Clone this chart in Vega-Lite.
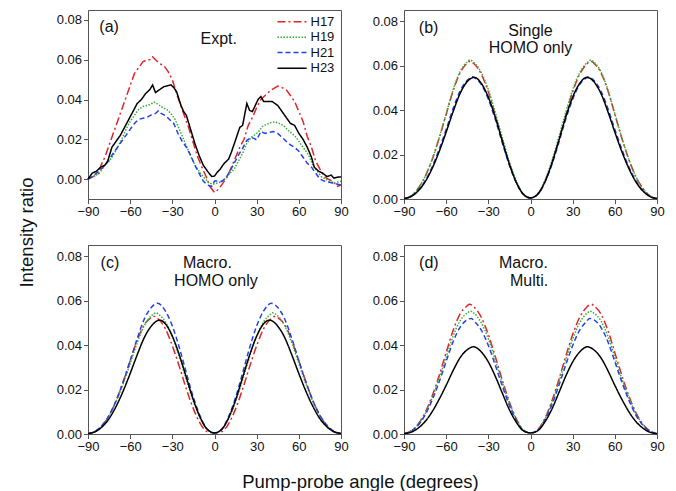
{
"$schema":"https://vega.github.io/schema/vega-lite/v6.json",
"padding":{"left":16,"top":9,"right":5,"bottom":5},
"config":{"font":"Liberation Sans","view":{"stroke":"#555","strokeWidth":1},
"axis":{"grid":false,"domainColor":"#555","tickColor":"#555","labelColor":"#111","labelFontSize":13,"labelPadding":2,"titleColor":"#111","titleFontSize":18.5,"titleFontWeight":"normal","domainWidth":1,"tickWidth":1,"labelFont":"Liberation Sans","titleFont":"Liberation Sans"},
"text":{"font":"Liberation Sans","fontSize":16,"color":"#111"}},
"datasets":{
"a":[
{"s":"H17","x":-90,"y":0.0},{"s":"H17","x":-87,"y":0.001},{"s":"H17","x":-84,"y":0.002},{"s":"H17","x":-82,"y":0.003},{"s":"H17","x":-81,"y":0.0065},{"s":"H17","x":-78,"y":0.011},{"s":"H17","x":-75,"y":0.017},{"s":"H17","x":-72,"y":0.023},{"s":"H17","x":-69,"y":0.029},{"s":"H17","x":-66,"y":0.035},{"s":"H17","x":-63,"y":0.041},{"s":"H17","x":-60,"y":0.047},{"s":"H17","x":-57,"y":0.053},{"s":"H17","x":-54,"y":0.056},{"s":"H17","x":-51,"y":0.059},{"s":"H17","x":-48,"y":0.06},{"s":"H17","x":-46,"y":0.06},{"s":"H17","x":-44,"y":0.0615},{"s":"H17","x":-42,"y":0.06},{"s":"H17","x":-39,"y":0.058},{"s":"H17","x":-36,"y":0.057},{"s":"H17","x":-33,"y":0.054},{"s":"H17","x":-30,"y":0.05},{"s":"H17","x":-27,"y":0.043},{"s":"H17","x":-24,"y":0.037},{"s":"H17","x":-21,"y":0.031},{"s":"H17","x":-18,"y":0.025},{"s":"H17","x":-15,"y":0.018},{"s":"H17","x":-12,"y":0.0113},{"s":"H17","x":-9,"y":0.006},{"s":"H17","x":-6,"y":0.0013},{"s":"H17","x":-3,"y":-0.004},{"s":"H17","x":0,"y":-0.0067},{"s":"H17","x":3,"y":-0.005},{"s":"H17","x":6,"y":-0.002},{"s":"H17","x":9,"y":0.001},{"s":"H17","x":12,"y":0.006},{"s":"H17","x":15,"y":0.011},{"s":"H17","x":18,"y":0.016},{"s":"H17","x":21,"y":0.02},{"s":"H17","x":24,"y":0.027},{"s":"H17","x":27,"y":0.031},{"s":"H17","x":30,"y":0.036},{"s":"H17","x":33,"y":0.04},{"s":"H17","x":36,"y":0.042},{"s":"H17","x":39,"y":0.044},{"s":"H17","x":42,"y":0.0455},{"s":"H17","x":45,"y":0.0468},{"s":"H17","x":48,"y":0.046},{"s":"H17","x":51,"y":0.045},{"s":"H17","x":54,"y":0.042},{"s":"H17","x":57,"y":0.039},{"s":"H17","x":60,"y":0.034},{"s":"H17","x":63,"y":0.029},{"s":"H17","x":66,"y":0.0214},{"s":"H17","x":69,"y":0.016},{"s":"H17","x":72,"y":0.009},{"s":"H17","x":75,"y":0.005},{"s":"H17","x":78,"y":0.0013},{"s":"H17","x":81,"y":0.0},{"s":"H17","x":84,"y":-0.001},{"s":"H17","x":87,"y":-0.0037},{"s":"H17","x":90,"y":-0.003},
{"s":"H19","x":-90,"y":0.0},{"s":"H19","x":-87,"y":0.001},{"s":"H19","x":-84,"y":0.002},{"s":"H19","x":-81,"y":0.004},{"s":"H19","x":-78,"y":0.007},{"s":"H19","x":-75,"y":0.009},{"s":"H19","x":-72,"y":0.012},{"s":"H19","x":-69,"y":0.016},{"s":"H19","x":-66,"y":0.02},{"s":"H19","x":-63,"y":0.025},{"s":"H19","x":-60,"y":0.029},{"s":"H19","x":-57,"y":0.032},{"s":"H19","x":-54,"y":0.035},{"s":"H19","x":-51,"y":0.0365},{"s":"H19","x":-48,"y":0.037},{"s":"H19","x":-46,"y":0.0375},{"s":"H19","x":-43,"y":0.0387},{"s":"H19","x":-40,"y":0.0375},{"s":"H19","x":-37,"y":0.036},{"s":"H19","x":-34,"y":0.035},{"s":"H19","x":-31,"y":0.033},{"s":"H19","x":-28,"y":0.03},{"s":"H19","x":-25,"y":0.025},{"s":"H19","x":-22,"y":0.02},{"s":"H19","x":-19,"y":0.015},{"s":"H19","x":-16,"y":0.01},{"s":"H19","x":-13,"y":0.006},{"s":"H19","x":-10,"y":0.003},{"s":"H19","x":-7,"y":0.0005},{"s":"H19","x":-4,"y":-0.002},{"s":"H19","x":-1,"y":-0.0025},{"s":"H19","x":2,"y":-0.002},{"s":"H19","x":5,"y":-0.0012},{"s":"H19","x":8,"y":0.0005},{"s":"H19","x":11,"y":0.003},{"s":"H19","x":14,"y":0.005},{"s":"H19","x":17,"y":0.009},{"s":"H19","x":20,"y":0.013},{"s":"H19","x":23,"y":0.018},{"s":"H19","x":26,"y":0.021},{"s":"H19","x":28,"y":0.022},{"s":"H19","x":31,"y":0.0235},{"s":"H19","x":34,"y":0.0264},{"s":"H19","x":37,"y":0.0275},{"s":"H19","x":40,"y":0.0284},{"s":"H19","x":43,"y":0.0288},{"s":"H19","x":46,"y":0.028},{"s":"H19","x":49,"y":0.027},{"s":"H19","x":52,"y":0.0247},{"s":"H19","x":55,"y":0.023},{"s":"H19","x":58,"y":0.021},{"s":"H19","x":61,"y":0.018},{"s":"H19","x":64,"y":0.015},{"s":"H19","x":67,"y":0.012},{"s":"H19","x":70,"y":0.007},{"s":"H19","x":73,"y":0.004},{"s":"H19","x":76,"y":0.0013},{"s":"H19","x":79,"y":0.0},{"s":"H19","x":82,"y":-0.001},{"s":"H19","x":85,"y":-0.002},{"s":"H19","x":88,"y":-0.0015},{"s":"H19","x":90,"y":-0.001},
{"s":"H21","x":-90,"y":0.0},{"s":"H21","x":-87,"y":0.0013},{"s":"H21","x":-84,"y":0.003},{"s":"H21","x":-81,"y":0.0047},{"s":"H21","x":-78,"y":0.007},{"s":"H21","x":-75,"y":0.0097},{"s":"H21","x":-72,"y":0.013},{"s":"H21","x":-69,"y":0.016},{"s":"H21","x":-66,"y":0.019},{"s":"H21","x":-63,"y":0.022},{"s":"H21","x":-60,"y":0.025},{"s":"H21","x":-57,"y":0.028},{"s":"H21","x":-54,"y":0.03},{"s":"H21","x":-51,"y":0.0306},{"s":"H21","x":-48,"y":0.031},{"s":"H21","x":-45,"y":0.0323},{"s":"H21","x":-42,"y":0.033},{"s":"H21","x":-40,"y":0.0343},{"s":"H21","x":-38,"y":0.033},{"s":"H21","x":-35,"y":0.032},{"s":"H21","x":-32,"y":0.03},{"s":"H21","x":-29,"y":0.028},{"s":"H21","x":-26,"y":0.023},{"s":"H21","x":-23,"y":0.019},{"s":"H21","x":-20,"y":0.016},{"s":"H21","x":-17,"y":0.012},{"s":"H21","x":-14,"y":0.007},{"s":"H21","x":-11,"y":0.003},{"s":"H21","x":-8,"y":-0.001},{"s":"H21","x":-5,"y":-0.003},{"s":"H21","x":-2,"y":-0.0037},{"s":"H21","x":0,"y":-0.001},{"s":"H21","x":2,"y":-0.001},{"s":"H21","x":5,"y":-0.0012},{"s":"H21","x":8,"y":0.0005},{"s":"H21","x":11,"y":0.004},{"s":"H21","x":14,"y":0.008},{"s":"H21","x":17,"y":0.012},{"s":"H21","x":20,"y":0.0155},{"s":"H21","x":23,"y":0.0195},{"s":"H21","x":26,"y":0.021},{"s":"H21","x":28,"y":0.0205},{"s":"H21","x":30,"y":0.0197},{"s":"H21","x":33,"y":0.0239},{"s":"H21","x":36,"y":0.023},{"s":"H21","x":39,"y":0.0235},{"s":"H21","x":42,"y":0.0239},{"s":"H21","x":45,"y":0.023},{"s":"H21","x":48,"y":0.021},{"s":"H21","x":51,"y":0.019},{"s":"H21","x":54,"y":0.0172},{"s":"H21","x":57,"y":0.016},{"s":"H21","x":60,"y":0.014},{"s":"H21","x":63,"y":0.011},{"s":"H21","x":66,"y":0.008},{"s":"H21","x":69,"y":0.006},{"s":"H21","x":72,"y":0.003},{"s":"H21","x":75,"y":0.0},{"s":"H21","x":78,"y":-0.001},{"s":"H21","x":81,"y":-0.0015},{"s":"H21","x":84,"y":-0.002},{"s":"H21","x":87,"y":-0.0025},{"s":"H21","x":90,"y":-0.003},
{"s":"H23","x":-90,"y":0.0},{"s":"H23","x":-87,"y":0.003},{"s":"H23","x":-84,"y":0.004},{"s":"H23","x":-81,"y":0.006},{"s":"H23","x":-78,"y":0.007},{"s":"H23","x":-76,"y":0.009},{"s":"H23","x":-73,"y":0.016},{"s":"H23","x":-70,"y":0.019},{"s":"H23","x":-67,"y":0.022},{"s":"H23","x":-64,"y":0.026},{"s":"H23","x":-61,"y":0.03},{"s":"H23","x":-58,"y":0.034},{"s":"H23","x":-55,"y":0.038},{"s":"H23","x":-52,"y":0.04},{"s":"H23","x":-49,"y":0.043},{"s":"H23","x":-46,"y":0.045},{"s":"H23","x":-44,"y":0.0473},{"s":"H23","x":-42,"y":0.0435},{"s":"H23","x":-39,"y":0.045},{"s":"H23","x":-36,"y":0.0465},{"s":"H23","x":-33,"y":0.047},{"s":"H23","x":-31,"y":0.0474},{"s":"H23","x":-29,"y":0.046},{"s":"H23","x":-27,"y":0.044},{"s":"H23","x":-24,"y":0.0373},{"s":"H23","x":-22,"y":0.034},{"s":"H23","x":-20,"y":0.032},{"s":"H23","x":-17,"y":0.025},{"s":"H23","x":-14,"y":0.018},{"s":"H23","x":-11,"y":0.012},{"s":"H23","x":-8,"y":0.007},{"s":"H23","x":-5,"y":0.004},{"s":"H23","x":-2,"y":0.0013},{"s":"H23","x":0,"y":0.0015},{"s":"H23","x":2,"y":0.0035},{"s":"H23","x":4,"y":0.005},{"s":"H23","x":7,"y":0.008},{"s":"H23","x":10,"y":0.01},{"s":"H23","x":12,"y":0.0135},{"s":"H23","x":15,"y":0.0197},{"s":"H23","x":18,"y":0.026},{"s":"H23","x":20,"y":0.027},{"s":"H23","x":23,"y":0.038},{"s":"H23","x":25,"y":0.0345},{"s":"H23","x":27,"y":0.034},{"s":"H23","x":29,"y":0.037},{"s":"H23","x":31,"y":0.04},{"s":"H23","x":33,"y":0.0415},{"s":"H23","x":35,"y":0.039},{"s":"H23","x":38,"y":0.039},{"s":"H23","x":41,"y":0.039},{"s":"H23","x":43,"y":0.038},{"s":"H23","x":45,"y":0.037},{"s":"H23","x":48,"y":0.034},{"s":"H23","x":51,"y":0.031},{"s":"H23","x":54,"y":0.028},{"s":"H23","x":57,"y":0.027},{"s":"H23","x":60,"y":0.023},{"s":"H23","x":63,"y":0.02},{"s":"H23","x":66,"y":0.016},{"s":"H23","x":69,"y":0.011},{"s":"H23","x":71,"y":0.006},{"s":"H23","x":74,"y":0.004},{"s":"H23","x":77,"y":0.003},{"s":"H23","x":80,"y":0.0013},{"s":"H23","x":83,"y":0.002},{"s":"H23","x":85,"y":0.0005},{"s":"H23","x":88,"y":0.001},{"s":"H23","x":90,"y":0.001}
],
"b":[
{"s":"H17","x":-90,"y":0.0002},{"s":"H17","x":-85,"y":0.0014},{"s":"H17","x":-80,"y":0.0047},{"s":"H17","x":-75,"y":0.01},{"s":"H17","x":-70,"y":0.0177},{"s":"H17","x":-65,"y":0.0273},{"s":"H17","x":-60,"y":0.0381},{"s":"H17","x":-55,"y":0.0488},{"s":"H17","x":-50,"y":0.0569},{"s":"H17","x":-45,"y":0.0611},{"s":"H17","x":-43,"y":0.062},{"s":"H17","x":-40,"y":0.0607},{"s":"H17","x":-35,"y":0.0561},{"s":"H17","x":-30,"y":0.0482},{"s":"H17","x":-25,"y":0.0375},{"s":"H17","x":-20,"y":0.0261},{"s":"H17","x":-15,"y":0.0156},{"s":"H17","x":-10,"y":0.0073},{"s":"H17","x":-5,"y":0.002},{"s":"H17","x":0,"y":0.0005},{"s":"H17","x":5,"y":0.002},{"s":"H17","x":10,"y":0.0073},{"s":"H17","x":15,"y":0.0156},{"s":"H17","x":20,"y":0.0261},{"s":"H17","x":25,"y":0.0375},{"s":"H17","x":30,"y":0.0482},{"s":"H17","x":35,"y":0.0561},{"s":"H17","x":40,"y":0.0607},{"s":"H17","x":43,"y":0.062},{"s":"H17","x":45,"y":0.0611},{"s":"H17","x":50,"y":0.0569},{"s":"H17","x":55,"y":0.0488},{"s":"H17","x":60,"y":0.0381},{"s":"H17","x":65,"y":0.0273},{"s":"H17","x":70,"y":0.0177},{"s":"H17","x":75,"y":0.01},{"s":"H17","x":80,"y":0.0047},{"s":"H17","x":85,"y":0.0014},{"s":"H17","x":90,"y":0.0002},
{"s":"H19","x":-90,"y":0.0002},{"s":"H19","x":-85,"y":0.0014},{"s":"H19","x":-80,"y":0.0047},{"s":"H19","x":-75,"y":0.0101},{"s":"H19","x":-70,"y":0.0178},{"s":"H19","x":-65,"y":0.0275},{"s":"H19","x":-60,"y":0.0384},{"s":"H19","x":-55,"y":0.0492},{"s":"H19","x":-50,"y":0.0574},{"s":"H19","x":-45,"y":0.0616},{"s":"H19","x":-43,"y":0.0625},{"s":"H19","x":-40,"y":0.0612},{"s":"H19","x":-35,"y":0.0568},{"s":"H19","x":-30,"y":0.0492},{"s":"H19","x":-25,"y":0.0388},{"s":"H19","x":-20,"y":0.0275},{"s":"H19","x":-15,"y":0.0167},{"s":"H19","x":-10,"y":0.008},{"s":"H19","x":-5,"y":0.0022},{"s":"H19","x":0,"y":0.0005},{"s":"H19","x":5,"y":0.0022},{"s":"H19","x":10,"y":0.008},{"s":"H19","x":15,"y":0.0167},{"s":"H19","x":20,"y":0.0275},{"s":"H19","x":25,"y":0.0388},{"s":"H19","x":30,"y":0.0492},{"s":"H19","x":35,"y":0.0568},{"s":"H19","x":40,"y":0.0612},{"s":"H19","x":43,"y":0.0625},{"s":"H19","x":45,"y":0.0616},{"s":"H19","x":50,"y":0.0574},{"s":"H19","x":55,"y":0.0492},{"s":"H19","x":60,"y":0.0384},{"s":"H19","x":65,"y":0.0275},{"s":"H19","x":70,"y":0.0178},{"s":"H19","x":75,"y":0.0101},{"s":"H19","x":80,"y":0.0047},{"s":"H19","x":85,"y":0.0014},{"s":"H19","x":90,"y":0.0002},
{"s":"H21","x":-90,"y":0.0002},{"s":"H21","x":-85,"y":0.0012},{"s":"H21","x":-80,"y":0.0037},{"s":"H21","x":-75,"y":0.0081},{"s":"H21","x":-70,"y":0.0144},{"s":"H21","x":-65,"y":0.0223},{"s":"H21","x":-60,"y":0.0313},{"s":"H21","x":-55,"y":0.0408},{"s":"H21","x":-50,"y":0.0487},{"s":"H21","x":-45,"y":0.0534},{"s":"H21","x":-41,"y":0.055},{"s":"H21","x":-40,"y":0.0546},{"s":"H21","x":-35,"y":0.0515},{"s":"H21","x":-30,"y":0.0449},{"s":"H21","x":-25,"y":0.0357},{"s":"H21","x":-20,"y":0.0251},{"s":"H21","x":-15,"y":0.0151},{"s":"H21","x":-10,"y":0.0071},{"s":"H21","x":-5,"y":0.002},{"s":"H21","x":0,"y":0.0005},{"s":"H21","x":5,"y":0.002},{"s":"H21","x":10,"y":0.0071},{"s":"H21","x":15,"y":0.0151},{"s":"H21","x":20,"y":0.0251},{"s":"H21","x":25,"y":0.0357},{"s":"H21","x":30,"y":0.0449},{"s":"H21","x":35,"y":0.0515},{"s":"H21","x":40,"y":0.0546},{"s":"H21","x":41,"y":0.055},{"s":"H21","x":45,"y":0.0534},{"s":"H21","x":50,"y":0.0487},{"s":"H21","x":55,"y":0.0408},{"s":"H21","x":60,"y":0.0313},{"s":"H21","x":65,"y":0.0223},{"s":"H21","x":70,"y":0.0144},{"s":"H21","x":75,"y":0.0081},{"s":"H21","x":80,"y":0.0037},{"s":"H21","x":85,"y":0.0012},{"s":"H21","x":90,"y":0.0002},
{"s":"H23","x":-90,"y":0.0002},{"s":"H23","x":-85,"y":0.0011},{"s":"H23","x":-80,"y":0.0036},{"s":"H23","x":-75,"y":0.0077},{"s":"H23","x":-70,"y":0.0137},{"s":"H23","x":-65,"y":0.0213},{"s":"H23","x":-60,"y":0.0301},{"s":"H23","x":-55,"y":0.0394},{"s":"H23","x":-50,"y":0.0476},{"s":"H23","x":-45,"y":0.0528},{"s":"H23","x":-40,"y":0.0547},{"s":"H23","x":-35,"y":0.052},{"s":"H23","x":-30,"y":0.0458},{"s":"H23","x":-25,"y":0.0367},{"s":"H23","x":-20,"y":0.026},{"s":"H23","x":-15,"y":0.0157},{"s":"H23","x":-10,"y":0.0074},{"s":"H23","x":-5,"y":0.0021},{"s":"H23","x":0,"y":0.0005},{"s":"H23","x":5,"y":0.0021},{"s":"H23","x":10,"y":0.0074},{"s":"H23","x":15,"y":0.0157},{"s":"H23","x":20,"y":0.026},{"s":"H23","x":25,"y":0.0367},{"s":"H23","x":30,"y":0.0458},{"s":"H23","x":35,"y":0.052},{"s":"H23","x":40,"y":0.0547},{"s":"H23","x":45,"y":0.0528},{"s":"H23","x":50,"y":0.0476},{"s":"H23","x":55,"y":0.0394},{"s":"H23","x":60,"y":0.0301},{"s":"H23","x":65,"y":0.0213},{"s":"H23","x":70,"y":0.0137},{"s":"H23","x":75,"y":0.0077},{"s":"H23","x":80,"y":0.0036},{"s":"H23","x":85,"y":0.0011},{"s":"H23","x":90,"y":0.0002}
],
"c":[
{"s":"H17","x":-90,"y":0.0002},{"s":"H17","x":-85,"y":0.0011},{"s":"H17","x":-80,"y":0.0037},{"s":"H17","x":-75,"y":0.0083},{"s":"H17","x":-70,"y":0.015},{"s":"H17","x":-65,"y":0.0235},{"s":"H17","x":-60,"y":0.0329},{"s":"H17","x":-55,"y":0.0421},{"s":"H17","x":-50,"y":0.0491},{"s":"H17","x":-45,"y":0.0524},{"s":"H17","x":-43.5,"y":0.053},{"s":"H17","x":-40,"y":0.0517},{"s":"H17","x":-35,"y":0.0474},{"s":"H17","x":-30,"y":0.0397},{"s":"H17","x":-25,"y":0.0303},{"s":"H17","x":-20,"y":0.0202},{"s":"H17","x":-15,"y":0.0113},{"s":"H17","x":-10,"y":0.0046},{"s":"H17","x":-5,"y":0.001},{"s":"H17","x":0,"y":0.0005},{"s":"H17","x":5,"y":0.001},{"s":"H17","x":10,"y":0.0046},{"s":"H17","x":15,"y":0.0113},{"s":"H17","x":20,"y":0.0202},{"s":"H17","x":25,"y":0.0303},{"s":"H17","x":30,"y":0.0397},{"s":"H17","x":35,"y":0.0474},{"s":"H17","x":40,"y":0.0517},{"s":"H17","x":43.5,"y":0.053},{"s":"H17","x":45,"y":0.0524},{"s":"H17","x":50,"y":0.0491},{"s":"H17","x":55,"y":0.0421},{"s":"H17","x":60,"y":0.0329},{"s":"H17","x":65,"y":0.0235},{"s":"H17","x":70,"y":0.015},{"s":"H17","x":75,"y":0.0083},{"s":"H17","x":80,"y":0.0037},{"s":"H17","x":85,"y":0.0011},{"s":"H17","x":90,"y":0.0002},
{"s":"H19","x":-90,"y":0.0002},{"s":"H19","x":-85,"y":0.0012},{"s":"H19","x":-80,"y":0.0038},{"s":"H19","x":-75,"y":0.0082},{"s":"H19","x":-70,"y":0.0146},{"s":"H19","x":-65,"y":0.0226},{"s":"H19","x":-60,"y":0.0317},{"s":"H19","x":-55,"y":0.041},{"s":"H19","x":-50,"y":0.0487},{"s":"H19","x":-45,"y":0.0531},{"s":"H19","x":-41.5,"y":0.0545},{"s":"H19","x":-40,"y":0.0539},{"s":"H19","x":-35,"y":0.0505},{"s":"H19","x":-30,"y":0.0439},{"s":"H19","x":-25,"y":0.0348},{"s":"H19","x":-20,"y":0.0244},{"s":"H19","x":-15,"y":0.0146},{"s":"H19","x":-10,"y":0.0069},{"s":"H19","x":-5,"y":0.0019},{"s":"H19","x":0,"y":0.0005},{"s":"H19","x":5,"y":0.0019},{"s":"H19","x":10,"y":0.0069},{"s":"H19","x":15,"y":0.0146},{"s":"H19","x":20,"y":0.0244},{"s":"H19","x":25,"y":0.0348},{"s":"H19","x":30,"y":0.0439},{"s":"H19","x":35,"y":0.0505},{"s":"H19","x":40,"y":0.0539},{"s":"H19","x":41.5,"y":0.0545},{"s":"H19","x":45,"y":0.0531},{"s":"H19","x":50,"y":0.0487},{"s":"H19","x":55,"y":0.041},{"s":"H19","x":60,"y":0.0317},{"s":"H19","x":65,"y":0.0226},{"s":"H19","x":70,"y":0.0146},{"s":"H19","x":75,"y":0.0082},{"s":"H19","x":80,"y":0.0038},{"s":"H19","x":85,"y":0.0012},{"s":"H19","x":90,"y":0.0002},
{"s":"H21","x":-90,"y":0.0002},{"s":"H21","x":-85,"y":0.0012},{"s":"H21","x":-80,"y":0.0039},{"s":"H21","x":-75,"y":0.0084},{"s":"H21","x":-70,"y":0.015},{"s":"H21","x":-65,"y":0.0234},{"s":"H21","x":-60,"y":0.0329},{"s":"H21","x":-55,"y":0.0429},{"s":"H21","x":-50,"y":0.0516},{"s":"H21","x":-45,"y":0.0569},{"s":"H21","x":-40.5,"y":0.0588},{"s":"H21","x":-35,"y":0.0554},{"s":"H21","x":-30,"y":0.0486},{"s":"H21","x":-25,"y":0.0388},{"s":"H21","x":-20,"y":0.0274},{"s":"H21","x":-15,"y":0.0164},{"s":"H21","x":-10,"y":0.0078},{"s":"H21","x":-5,"y":0.0021},{"s":"H21","x":0,"y":0.0005},{"s":"H21","x":5,"y":0.0021},{"s":"H21","x":10,"y":0.0078},{"s":"H21","x":15,"y":0.0164},{"s":"H21","x":20,"y":0.0274},{"s":"H21","x":25,"y":0.0388},{"s":"H21","x":30,"y":0.0486},{"s":"H21","x":35,"y":0.0554},{"s":"H21","x":40.5,"y":0.0588},{"s":"H21","x":45,"y":0.0569},{"s":"H21","x":50,"y":0.0516},{"s":"H21","x":55,"y":0.0429},{"s":"H21","x":60,"y":0.0329},{"s":"H21","x":65,"y":0.0234},{"s":"H21","x":70,"y":0.015},{"s":"H21","x":75,"y":0.0084},{"s":"H21","x":80,"y":0.0039},{"s":"H21","x":85,"y":0.0012},{"s":"H21","x":90,"y":0.0002},
{"s":"H23","x":-90,"y":0.0002},{"s":"H23","x":-85,"y":0.001},{"s":"H23","x":-80,"y":0.0032},{"s":"H23","x":-75,"y":0.0069},{"s":"H23","x":-70,"y":0.0124},{"s":"H23","x":-65,"y":0.0193},{"s":"H23","x":-60,"y":0.0272},{"s":"H23","x":-55,"y":0.0356},{"s":"H23","x":-50,"y":0.0433},{"s":"H23","x":-45,"y":0.0485},{"s":"H23","x":-39,"y":0.0512},{"s":"H23","x":-35,"y":0.0496},{"s":"H23","x":-30,"y":0.044},{"s":"H23","x":-25,"y":0.0355},{"s":"H23","x":-20,"y":0.0254},{"s":"H23","x":-15,"y":0.0153},{"s":"H23","x":-10,"y":0.0072},{"s":"H23","x":-5,"y":0.002},{"s":"H23","x":0,"y":0.0005},{"s":"H23","x":5,"y":0.002},{"s":"H23","x":10,"y":0.0072},{"s":"H23","x":15,"y":0.0153},{"s":"H23","x":20,"y":0.0254},{"s":"H23","x":25,"y":0.0355},{"s":"H23","x":30,"y":0.044},{"s":"H23","x":35,"y":0.0496},{"s":"H23","x":39,"y":0.0512},{"s":"H23","x":45,"y":0.0485},{"s":"H23","x":50,"y":0.0433},{"s":"H23","x":55,"y":0.0356},{"s":"H23","x":60,"y":0.0272},{"s":"H23","x":65,"y":0.0193},{"s":"H23","x":70,"y":0.0124},{"s":"H23","x":75,"y":0.0069},{"s":"H23","x":80,"y":0.0032},{"s":"H23","x":85,"y":0.001},{"s":"H23","x":90,"y":0.0002}
],
"d":[
{"s":"H17","x":-90,"y":0.0002},{"s":"H17","x":-85,"y":0.0014},{"s":"H17","x":-80,"y":0.0044},{"s":"H17","x":-75,"y":0.0096},{"s":"H17","x":-70,"y":0.0171},{"s":"H17","x":-65,"y":0.0263},{"s":"H17","x":-60,"y":0.0366},{"s":"H17","x":-55,"y":0.0467},{"s":"H17","x":-50,"y":0.0541},{"s":"H17","x":-45,"y":0.0577},{"s":"H17","x":-43.5,"y":0.0584},{"s":"H17","x":-40,"y":0.057},{"s":"H17","x":-35,"y":0.0525},{"s":"H17","x":-30,"y":0.0447},{"s":"H17","x":-25,"y":0.0347},{"s":"H17","x":-20,"y":0.0241},{"s":"H17","x":-15,"y":0.0144},{"s":"H17","x":-10,"y":0.0067},{"s":"H17","x":-5,"y":0.0018},{"s":"H17","x":0,"y":0.0005},{"s":"H17","x":5,"y":0.0018},{"s":"H17","x":10,"y":0.0067},{"s":"H17","x":15,"y":0.0144},{"s":"H17","x":20,"y":0.0241},{"s":"H17","x":25,"y":0.0347},{"s":"H17","x":30,"y":0.0447},{"s":"H17","x":35,"y":0.0525},{"s":"H17","x":40,"y":0.057},{"s":"H17","x":43.5,"y":0.0584},{"s":"H17","x":45,"y":0.0577},{"s":"H17","x":50,"y":0.0541},{"s":"H17","x":55,"y":0.0467},{"s":"H17","x":60,"y":0.0366},{"s":"H17","x":65,"y":0.0263},{"s":"H17","x":70,"y":0.0171},{"s":"H17","x":75,"y":0.0096},{"s":"H17","x":80,"y":0.0044},{"s":"H17","x":85,"y":0.0014},{"s":"H17","x":90,"y":0.0002},
{"s":"H19","x":-90,"y":0.0002},{"s":"H19","x":-85,"y":0.0013},{"s":"H19","x":-80,"y":0.0042},{"s":"H19","x":-75,"y":0.0091},{"s":"H19","x":-70,"y":0.0162},{"s":"H19","x":-65,"y":0.0249},{"s":"H19","x":-60,"y":0.0346},{"s":"H19","x":-55,"y":0.0441},{"s":"H19","x":-50,"y":0.051},{"s":"H19","x":-45,"y":0.0544},{"s":"H19","x":-42.5,"y":0.0552},{"s":"H19","x":-40,"y":0.0542},{"s":"H19","x":-35,"y":0.05},{"s":"H19","x":-30,"y":0.0428},{"s":"H19","x":-25,"y":0.0332},{"s":"H19","x":-20,"y":0.0231},{"s":"H19","x":-15,"y":0.0138},{"s":"H19","x":-10,"y":0.0064},{"s":"H19","x":-5,"y":0.0017},{"s":"H19","x":0,"y":0.0005},{"s":"H19","x":5,"y":0.0017},{"s":"H19","x":10,"y":0.0064},{"s":"H19","x":15,"y":0.0138},{"s":"H19","x":20,"y":0.0231},{"s":"H19","x":25,"y":0.0332},{"s":"H19","x":30,"y":0.0428},{"s":"H19","x":35,"y":0.05},{"s":"H19","x":40,"y":0.0542},{"s":"H19","x":42.5,"y":0.0552},{"s":"H19","x":45,"y":0.0544},{"s":"H19","x":50,"y":0.051},{"s":"H19","x":55,"y":0.0441},{"s":"H19","x":60,"y":0.0346},{"s":"H19","x":65,"y":0.0249},{"s":"H19","x":70,"y":0.0162},{"s":"H19","x":75,"y":0.0091},{"s":"H19","x":80,"y":0.0042},{"s":"H19","x":85,"y":0.0013},{"s":"H19","x":90,"y":0.0002},
{"s":"H21","x":-90,"y":0.0002},{"s":"H21","x":-85,"y":0.0012},{"s":"H21","x":-80,"y":0.0039},{"s":"H21","x":-75,"y":0.0085},{"s":"H21","x":-70,"y":0.0152},{"s":"H21","x":-65,"y":0.0234},{"s":"H21","x":-60,"y":0.0326},{"s":"H21","x":-55,"y":0.0416},{"s":"H21","x":-50,"y":0.0481},{"s":"H21","x":-45,"y":0.0514},{"s":"H21","x":-42,"y":0.052},{"s":"H21","x":-40,"y":0.0507},{"s":"H21","x":-35,"y":0.0467},{"s":"H21","x":-30,"y":0.0398},{"s":"H21","x":-25,"y":0.0309},{"s":"H21","x":-20,"y":0.0215},{"s":"H21","x":-15,"y":0.0128},{"s":"H21","x":-10,"y":0.006},{"s":"H21","x":-5,"y":0.0016},{"s":"H21","x":0,"y":0.0005},{"s":"H21","x":5,"y":0.0016},{"s":"H21","x":10,"y":0.006},{"s":"H21","x":15,"y":0.0128},{"s":"H21","x":20,"y":0.0215},{"s":"H21","x":25,"y":0.0309},{"s":"H21","x":30,"y":0.0398},{"s":"H21","x":35,"y":0.0467},{"s":"H21","x":40,"y":0.0507},{"s":"H21","x":42,"y":0.052},{"s":"H21","x":45,"y":0.0514},{"s":"H21","x":50,"y":0.0481},{"s":"H21","x":55,"y":0.0416},{"s":"H21","x":60,"y":0.0326},{"s":"H21","x":65,"y":0.0234},{"s":"H21","x":70,"y":0.0152},{"s":"H21","x":75,"y":0.0085},{"s":"H21","x":80,"y":0.0039},{"s":"H21","x":85,"y":0.0012},{"s":"H21","x":90,"y":0.0002},
{"s":"H23","x":-90,"y":0.0002},{"s":"H23","x":-85,"y":0.0008},{"s":"H23","x":-80,"y":0.0026},{"s":"H23","x":-75,"y":0.0056},{"s":"H23","x":-70,"y":0.01},{"s":"H23","x":-65,"y":0.0156},{"s":"H23","x":-60,"y":0.0219},{"s":"H23","x":-55,"y":0.0286},{"s":"H23","x":-50,"y":0.0344},{"s":"H23","x":-45,"y":0.0379},{"s":"H23","x":-40.5,"y":0.0392},{"s":"H23","x":-35,"y":0.0369},{"s":"H23","x":-30,"y":0.0324},{"s":"H23","x":-25,"y":0.0259},{"s":"H23","x":-20,"y":0.0183},{"s":"H23","x":-15,"y":0.0109},{"s":"H23","x":-10,"y":0.0052},{"s":"H23","x":-5,"y":0.0014},{"s":"H23","x":0,"y":0.0005},{"s":"H23","x":5,"y":0.0014},{"s":"H23","x":10,"y":0.0052},{"s":"H23","x":15,"y":0.0109},{"s":"H23","x":20,"y":0.0183},{"s":"H23","x":25,"y":0.0259},{"s":"H23","x":30,"y":0.0324},{"s":"H23","x":35,"y":0.0369},{"s":"H23","x":40.5,"y":0.0392},{"s":"H23","x":45,"y":0.0379},{"s":"H23","x":50,"y":0.0344},{"s":"H23","x":55,"y":0.0286},{"s":"H23","x":60,"y":0.0219},{"s":"H23","x":65,"y":0.0156},{"s":"H23","x":70,"y":0.01},{"s":"H23","x":75,"y":0.0056},{"s":"H23","x":80,"y":0.0026},{"s":"H23","x":85,"y":0.0008},{"s":"H23","x":90,"y":0.0002}
]
},
"columns":2,
"spacing":{"row":46,"column":63},
"bounds":"flush",
"concat":[
{"width":253,"height":189,
"encoding":{
"color":{"field":"s","type":"nominal","scale":{"domain":["H17","H19","H21","H23"],"range":["#e3242b","#35b035","#2541e8","#000000"]},"legend":null},
"strokeDash":{"field":"s","type":"nominal","scale":{"domain":["H17","H19","H21","H23"],"range":[[8,3,2,3],[1.5,1.5],[5,3],[1,0]]},"legend":null}},
"layer":[
{"data":{"name":"a"},"mark":{"type":"line","strokeWidth":1.5,"interpolate":"linear"},
"encoding":{
"x":{"field":"x","type":"quantitative","scale":{"domain":[-90,90],"nice":false,"zero":false},"axis":{"title":null,"values":[-90,-75,-60,-45,-30,-15,0,15,30,45,60,75,90],"labelExpr":"datum.value % 30 === 0 ? datum.label : ''","tickSize":{"condition":{"test":"datum.value % 30 !== 0","value":2.5},"value":4.5},"labelFlush":false,"labelOverlap":false}},
"y":{"field":"y","type":"quantitative","scale":{"domain":[-0.01,0.085],"nice":false,"zero":false},"axis":{"title":null,"format":".2f","values":[0,0.01,0.02,0.03,0.04,0.05,0.06,0.07,0.08],"labelExpr":"round(datum.value*100) % 2 === 0 ? datum.label : ''","tickSize":{"condition":{"test":"round(datum.value*100) % 2 !== 0","value":2.5},"value":4.5},"labelFlush":false,"labelOverlap":false}}}},
{"data":{"values":[{"s":"H17"}]},"mark":{"type":"rule","strokeWidth":1.5},"encoding":{"x":{"datum":44.8,"type":"quantitative"},"x2":{"datum":65.6},"y":{"datum":0.0791,"type":"quantitative"}}},
{"data":{"values":[{"s":"H19"}]},"mark":{"type":"rule","strokeWidth":1.5},"encoding":{"x":{"datum":44.8,"type":"quantitative"},"x2":{"datum":65.6},"y":{"datum":0.0713,"type":"quantitative"}}},
{"data":{"values":[{"s":"H21"}]},"mark":{"type":"rule","strokeWidth":1.5},"encoding":{"x":{"datum":44.8,"type":"quantitative"},"x2":{"datum":65.6},"y":{"datum":0.0636,"type":"quantitative"}}},
{"data":{"values":[{"s":"H23"}]},"mark":{"type":"rule","strokeWidth":1.5},"encoding":{"x":{"datum":44.8,"type":"quantitative"},"x2":{"datum":65.6},"y":{"datum":0.0557,"type":"quantitative"}}},
{"data":{"values":[{"s":"H17"}]},"mark":{"type":"text","fontSize":13,"align":"left","baseline":"middle"},"encoding":{"color":{"value":"#111"},"strokeDash":{"value":[1,0]},"x":{"datum":68.3,"type":"quantitative"},"y":{"datum":0.0791,"type":"quantitative"},"text":{"field":"s"}}},
{"data":{"values":[{"s":"H19"}]},"mark":{"type":"text","fontSize":13,"align":"left","baseline":"middle"},"encoding":{"color":{"value":"#111"},"strokeDash":{"value":[1,0]},"x":{"datum":68.3,"type":"quantitative"},"y":{"datum":0.0713,"type":"quantitative"},"text":{"field":"s"}}},
{"data":{"values":[{"s":"H21"}]},"mark":{"type":"text","fontSize":13,"align":"left","baseline":"middle"},"encoding":{"color":{"value":"#111"},"strokeDash":{"value":[1,0]},"x":{"datum":68.3,"type":"quantitative"},"y":{"datum":0.0636,"type":"quantitative"},"text":{"field":"s"}}},
{"data":{"values":[{"s":"H23"}]},"mark":{"type":"text","fontSize":13,"align":"left","baseline":"middle"},"encoding":{"color":{"value":"#111"},"strokeDash":{"value":[1,0]},"x":{"datum":68.3,"type":"quantitative"},"y":{"datum":0.0557,"type":"quantitative"},"text":{"field":"s"}}},
{"data":{"values":[{"t":"(a)"}]},"mark":{"type":"text","fontSize":16},"encoding":{"color":{"value":"#111"},"strokeDash":{"value":[1,0]},"x":{"datum":-75,"type":"quantitative"},"y":{"datum":0.0765,"type":"quantitative"},"text":{"field":"t"}}},
{"data":{"values":[{"t":"Expt."}]},"mark":{"type":"text","fontSize":16},"encoding":{"color":{"value":"#111"},"strokeDash":{"value":[1,0]},"x":{"datum":3,"type":"quantitative"},"y":{"datum":0.0703,"type":"quantitative"},"text":{"field":"t"}}}
]},
{"width":253,"height":189,"layer":[
{"data":{"name":"b"},"mark":{"type":"line","strokeWidth":1.5,"interpolate":"monotone"},
"encoding":{
"x":{"field":"x","type":"quantitative","scale":{"domain":[-90,90],"nice":false,"zero":false},"axis":{"title":null,"values":[-90,-75,-60,-45,-30,-15,0,15,30,45,60,75,90],"labelExpr":"datum.value % 30 === 0 ? datum.label : ''","tickSize":{"condition":{"test":"datum.value % 30 !== 0","value":2.5},"value":4.5},"labelFlush":false,"labelOverlap":false}},
"y":{"field":"y","type":"quantitative","scale":{"domain":[0,0.085],"nice":false,"zero":false},"axis":{"title":null,"format":".2f","values":[0,0.01,0.02,0.03,0.04,0.05,0.06,0.07,0.08],"labelExpr":"round(datum.value*100) % 2 === 0 ? datum.label : ''","tickSize":{"condition":{"test":"round(datum.value*100) % 2 !== 0","value":2.5},"value":4.5},"labelFlush":false,"labelOverlap":false}},
"color":{"field":"s","type":"nominal","legend":null},
"strokeDash":{"field":"s","type":"nominal","legend":null}}},
{"data":{"values":[{"t":"(b)"}]},"mark":{"type":"text","fontSize":16},"encoding":{"x":{"datum":-72.5,"type":"quantitative"},"y":{"datum":0.0769,"type":"quantitative"},"text":{"field":"t"}}},
{"data":{"values":[{"t":"Single"}]},"mark":{"type":"text","fontSize":16},"encoding":{"x":{"datum":0,"type":"quantitative"},"y":{"datum":0.0756,"type":"quantitative"},"text":{"field":"t"}}},
{"data":{"values":[{"t":"HOMO only"}]},"mark":{"type":"text","fontSize":16},"encoding":{"x":{"datum":0,"type":"quantitative"},"y":{"datum":0.068,"type":"quantitative"},"text":{"field":"t"}}}
]},
{"width":253,"height":189,"layer":[
{"data":{"name":"c"},"mark":{"type":"line","strokeWidth":1.5,"interpolate":"monotone"},
"encoding":{
"x":{"field":"x","type":"quantitative","scale":{"domain":[-90,90],"nice":false,"zero":false},"axis":{"title":"Pump-probe angle (degrees)","titleX":272,"titleY":47,"titleAlign":"center","titleBaseline":"middle","values":[-90,-75,-60,-45,-30,-15,0,15,30,45,60,75,90],"labelExpr":"datum.value % 30 === 0 ? datum.label : ''","tickSize":{"condition":{"test":"datum.value % 30 !== 0","value":2.5},"value":4.5},"labelFlush":false,"labelOverlap":false}},
"y":{"field":"y","type":"quantitative","scale":{"domain":[0,0.085],"nice":false,"zero":false},"axis":{"title":"Intensity ratio","titleX":-62,"titleY":-13,"titleAlign":"center","titleBaseline":"middle","titleAngle":-90,"format":".2f","values":[0,0.01,0.02,0.03,0.04,0.05,0.06,0.07,0.08],"labelExpr":"round(datum.value*100) % 2 === 0 ? datum.label : ''","tickSize":{"condition":{"test":"round(datum.value*100) % 2 !== 0","value":2.5},"value":4.5},"labelFlush":false,"labelOverlap":false}},
"color":{"field":"s","type":"nominal","legend":null},
"strokeDash":{"field":"s","type":"nominal","legend":null}}},
{"data":{"values":[{"t":"(c)"}]},"mark":{"type":"text","fontSize":16},"encoding":{"x":{"datum":-74.4,"type":"quantitative"},"y":{"datum":0.0769,"type":"quantitative"},"text":{"field":"t"}}},
{"data":{"values":[{"t":"Macro."}]},"mark":{"type":"text","fontSize":16},"encoding":{"x":{"datum":-5,"type":"quantitative"},"y":{"datum":0.0769,"type":"quantitative"},"text":{"field":"t"}}},
{"data":{"values":[{"t":"HOMO only"}]},"mark":{"type":"text","fontSize":16},"encoding":{"x":{"datum":1,"type":"quantitative"},"y":{"datum":0.0688,"type":"quantitative"},"text":{"field":"t"}}}
]},
{"width":253,"height":189,"layer":[
{"data":{"name":"d"},"mark":{"type":"line","strokeWidth":1.5,"interpolate":"monotone"},
"encoding":{
"x":{"field":"x","type":"quantitative","scale":{"domain":[-90,90],"nice":false,"zero":false},"axis":{"title":null,"values":[-90,-75,-60,-45,-30,-15,0,15,30,45,60,75,90],"labelExpr":"datum.value % 30 === 0 ? datum.label : ''","tickSize":{"condition":{"test":"datum.value % 30 !== 0","value":2.5},"value":4.5},"labelFlush":false,"labelOverlap":false}},
"y":{"field":"y","type":"quantitative","scale":{"domain":[0,0.085],"nice":false,"zero":false},"axis":{"title":null,"format":".2f","values":[0,0.01,0.02,0.03,0.04,0.05,0.06,0.07,0.08],"labelExpr":"round(datum.value*100) % 2 === 0 ? datum.label : ''","tickSize":{"condition":{"test":"round(datum.value*100) % 2 !== 0","value":2.5},"value":4.5},"labelFlush":false,"labelOverlap":false}},
"color":{"field":"s","type":"nominal","legend":null},
"strokeDash":{"field":"s","type":"nominal","legend":null}}},
{"data":{"values":[{"t":"(d)"}]},"mark":{"type":"text","fontSize":16},"encoding":{"x":{"datum":-72.3,"type":"quantitative"},"y":{"datum":0.0769,"type":"quantitative"},"text":{"field":"t"}}},
{"data":{"values":[{"t":"Macro."}]},"mark":{"type":"text","fontSize":16},"encoding":{"x":{"datum":-5,"type":"quantitative"},"y":{"datum":0.0769,"type":"quantitative"},"text":{"field":"t"}}},
{"data":{"values":[{"t":"Multi."}]},"mark":{"type":"text","fontSize":16},"encoding":{"x":{"datum":-1,"type":"quantitative"},"y":{"datum":0.0688,"type":"quantitative"},"text":{"field":"t"}}}
]}
]
}
